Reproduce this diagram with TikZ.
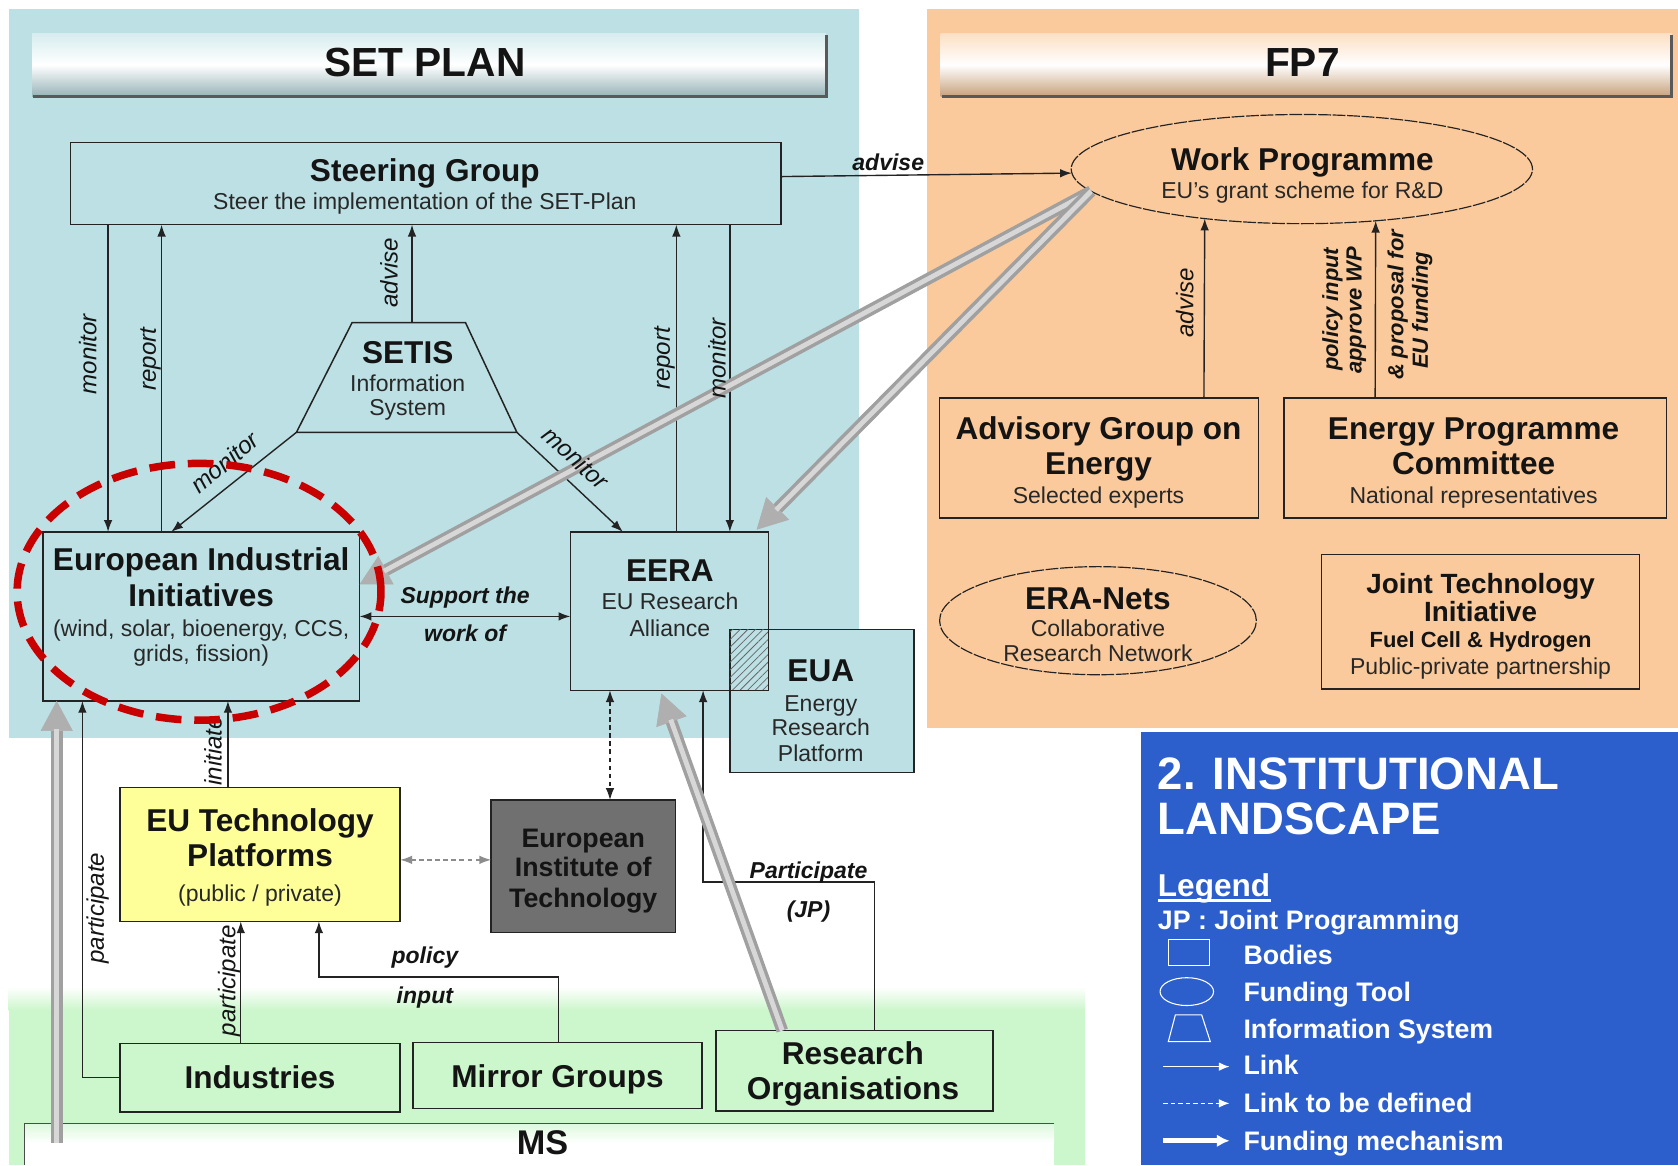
\documentclass[tikz,border=0pt]{standalone}
\usepackage{fontspec}
\setmainfont{Liberation Sans}
\usetikzlibrary{arrows.meta,shapes.geometric,patterns.meta,calc}
\definecolor{setbg}{RGB}{188,224,228}
\definecolor{fpbg}{RGB}{250,202,156}
\definecolor{msbg}{RGB}{204,246,204}
\definecolor{legbg}{RGB}{44,94,204}
\definecolor{eitgray}{RGB}{112,112,112}
\definecolor{etpyel}{RGB}{255,255,153}
\definecolor{edge}{RGB}{35,35,35}
\definecolor{txtc}{RGB}{20,20,20}
\definecolor{subc}{RGB}{40,40,40}
\definecolor{fundgray}{RGB}{160,160,160}
\definecolor{fundlight}{RGB}{215,215,215}
\definecolor{fundhead}{RGB}{175,175,175}
\definecolor{redring}{RGB}{200,0,0}
\begin{document}
\begin{tikzpicture}[x=1pt,y=-1pt,
 tx/.style={inner sep=0pt, outer sep=0pt, text depth=0pt, text=txtc},
 hdr/.style={tx, font=\bfseries\fontsize{38}{40}\selectfont, text height=27.2pt},
 ttl/.style={tx, font=\bfseries\fontsize{29.5}{32}\selectfont, text height=21.1pt},
 ttm/.style={tx, font=\bfseries\fontsize{26}{28}\selectfont, text height=18.6pt},
 tts/.style={tx, font=\bfseries\fontsize{25}{27}\selectfont, text height=17.9pt},
 ttf/.style={tx, font=\bfseries\fontsize{20.5}{23}\selectfont, text height=14.7pt},
 sub/.style={tx, font=\fontsize{21.5}{24}\selectfont, text height=15.4pt, text=subc},
 lbl/.style={tx, font=\bfseries\itshape\fontsize{21.5}{24}\selectfont, text height=15.4pt},
 lbs/.style={tx, font=\bfseries\itshape\fontsize{20.5}{23}\selectfont, text height=14.7pt},
 lbi/.style={tx, font=\itshape\fontsize{22.5}{25}\selectfont, text height=16.1pt},
 leg/.style={tx, anchor=west, font=\bfseries\fontsize{25}{27}\selectfont, text height=17.9pt, text=white},
 legl/.style={tx, anchor=west, font=\bfseries\fontsize{29.5}{32}\selectfont, text height=21.1pt, text=white},
 legt/.style={tx, anchor=west, font=\bfseries\fontsize{42.5}{45}\selectfont, text height=30.4pt, text=white},
 box/.style={draw=edge, line width=1.4pt, inner sep=0pt, outer sep=0pt},
 oval/.style={ellipse, draw=edge, line width=1.1pt, dash pattern=on 12pt off 1.5pt, inner sep=0pt, outer sep=0pt},
 link/.style={draw=edge, line width=1.3pt, -{Latex[length=11pt,width=8pt]}},
 dual/.style={draw=edge, line width=1.3pt, {Latex[length=11pt,width=8pt]}-{Latex[length=11pt,width=8pt]}},
 tbd/.style={line width=1.3pt, dash pattern=on 4pt off 3.5pt, {Latex[length=11pt,width=8pt]}-{Latex[length=11pt,width=8pt]}},
 fund/.style={draw=fundgray, line width=11pt, -{Triangle[length=28pt,width=30pt,line width=0.6pt,color=fundhead,fill=fundhead]}, postaction={draw=fundlight, line width=4.5pt, -, shorten >=26pt}},
]
\useasboundingbox (0,0) rectangle (1568,1089);
% ---------- backgrounds
\fill[white] (0,0) rectangle (1568,1089);
\fill[setbg] (8,8) rectangle (803,690);
\fill[fpbg] (866,8) rectangle (1568,680);
\shade[top color=white, bottom color=msbg] (8,922) rectangle (1014,944);
\fill[msbg] (8,944) rectangle (1014,1089);
\fill[legbg] (1066,684) rectangle (1568,1089);
% MS bar
\shade[top color=msbg!70!white, bottom color=white] (23,1049.5) rectangle (985,1068);
\fill[white] (23,1068) rectangle (985,1089);
\draw[black!70, line width=1pt] (985,1049.5) -- (23,1049.5) -- (23,1089);
% header bars
\shade[top color=setbg!60!white, bottom color=setbg!80!black, middle color=white] (30,31) rectangle (772,90);
\draw[black!65, line width=3pt] (31,90) -- (772,90) -- (772,33);
\shade[top color=fpbg!60!white, bottom color=fpbg!80!black, middle color=white] (879,31) rectangle (1562,90);
\draw[black!65, line width=3pt] (880,90) -- (1562,90) -- (1562,33);
\node[hdr] (hset) at (397,58) {SET PLAN};
\node[hdr] (hfp) at (1217,58) {FP7};
% ---------- shapes
\node[box, fill=setbg, minimum width=664pt, minimum height=77pt] (steer) at (398,171.5) {};
\node[oval, fill=fpbg, minimum width=431pt, minimum height=102pt] (wp) at (1216.5,158) {};
\node[draw=none, inner sep=0pt, outer sep=0pt, minimum width=206pt, minimum height=102.5pt] (setis) at (380,352.75) {};
\draw[draw=edge, line width=1.4pt, fill=setbg] (setis.south west) -- ([xshift=52pt]setis.north west) -- ([xshift=-48pt]setis.north east) -- (setis.south east) -- cycle;
\node[box, fill=setbg, minimum width=296pt, minimum height=158pt] (eii) at (188,576) {};
\node[box, fill=setbg, minimum width=185pt, minimum height=148pt] (eera) at (625.5,571) {};
\node[box, fill=setbg, minimum width=172pt, minimum height=134pt] (eua) at (768,655) {};
\fill[pattern={Lines[angle=45,distance=5pt,line width=0.7pt]}, pattern color=black!60] (eua.north west) rectangle (eera.south east);
\draw[draw=edge, line width=1.4pt] (eera.north west) rectangle (eera.south east);
\node[box, fill=fpbg, minimum width=298pt, minimum height=112pt] (agoe) at (1027,428) {};
\node[box, fill=fpbg, minimum width=357pt, minimum height=112pt] (epc) at (1378.5,428) {};
\node[oval, fill=fpbg, minimum width=296pt, minimum height=101pt] (eranet) at (1026,580) {};
\node[box, fill=fpbg, minimum width=297pt, minimum height=126pt] (jti) at (1383.5,581) {};
\node[box, fill=etpyel, minimum width=262pt, minimum height=125pt] (etp) at (243,798.5) {};
\node[box, fill=eitgray, minimum width=172pt, minimum height=124pt] (eit) at (545,809.5) {};
\node[box, fill=msbg, minimum width=262pt, minimum height=64pt] (ind) at (243,1007) {};
\node[box, fill=msbg, minimum width=270pt, minimum height=62pt] (mir) at (521,1005) {};
\node[box, fill=msbg, minimum width=259pt, minimum height=75pt] (ro) at (798.5,1000.5) {};
\coordinate (msfund) at (53,1068);
% ---------- links
\draw[link] ([xshift=35pt]steer.south west) -- ([xshift=61pt]eii.north west);
\draw[link] ([xshift=111pt]eii.north west) -- ([xshift=85pt]steer.south west);
\draw[link] ([xshift=5pt]setis.north) -- ([xshift=319pt]steer.south west);
\draw[link] ([xshift=99pt]eera.north west) -- ([xshift=566pt]steer.south west);
\draw[link] ([xshift=616pt]steer.south west) -- ([xshift=149pt]eera.north west);
\draw[link] ([yshift=6.5pt]steer.east) -- (wp.181.9);
\draw[link] (setis.south west) -- ([xshift=120pt]eii.north west);
\draw[link] (setis.south east) -- ([xshift=49pt]eera.north west);
\draw[dual] (eii.east) -- ([yshift=-5pt]eera.west);
\draw[link] ([xshift=98pt]agoe.north) -- (wp.-153.2);
\draw[link] ([xshift=-93.5pt]epc.north) -- (wp.-35.2);
\draw[link] ([xshift=101pt]etp.north west) -- ([xshift=173pt]eii.south west);
\draw[link] (ind.west) -| ([xshift=37pt]eii.south west);
\draw[link] ([xshift=113pt]ind.north west) -- ([xshift=113pt]etp.south west);
\draw[link] ([xshift=136pt]mir.north west) -- ++(0,-61) -| ([xshift=186pt]etp.south west);
\draw[tbd, draw=black!45] ([yshift=-5pt]etp.east) -- ([yshift=6pt]eit.west);
\draw[tbd, draw=edge] ([xshift=37pt]eera.south west) -- ([xshift=111pt]eit.north west);
\draw[link] ([xshift=148pt]ro.north west) -- ++(0,-139) -| ([xshift=124pt]eera.south west);
% ---------- funding mechanisms
\draw[fund] (wp.186) -- ([yshift=30pt]eii.east);
\draw[fund] (wp.186) -- ([xshift=-11pt,yshift=2pt]eera.north east);
\draw[fund] ([xshift=62pt]ro.north west) -- ([xshift=85pt,yshift=-3pt]eera.south west);
\draw[fund] (msfund) -- ([xshift=13pt]eii.south west);
% ---------- texts
\node[ttl] (tsg1) at (397,159) {Steering Group};
\node[sub] (tsg2) at (397,188.5) {Steer the implementation of the SET-Plan};
\node[ttl] (twp1) at (1217,149) {Work Programme};
\node[sub] (twp2) at (1217,178) {EU's grant scheme for R\&D};
\node[ttl] (tse1) at (381,329) {SETIS};
\node[sub] (tse2) at (381,358) {Information};
\node[sub] (tse3) at (381,381) {System};
\node[ttl] (tei1) at (188,523) {European Industrial};
\node[ttl] (tei2) at (188,556) {Initiatives};
\node[sub] (tei3) at (188,587) {(wind, solar, bioenergy, CCS,};
\node[sub] (tei4) at (188,610) {grids, fission)};
\node[ttl] (tee1) at (626,533) {EERA};
\node[sub] (tee2) at (626,562) {EU Research};
\node[sub] (tee3) at (626,587) {Alliance};
\node[ttl] (tua1) at (767,626) {EUA};
\node[sub] (tua2) at (767,657) {Energy};
\node[sub] (tua3) at (767,680) {Research};
\node[sub] (tua4) at (767,704) {Platform};
\node[ttl] (tag1) at (1026.5,400) {Advisory Group on};
\node[ttl] (tag2) at (1026.5,433) {Energy};
\node[sub] (tag3) at (1026.5,462.6) {Selected experts};
\node[ttl] (tep1) at (1377,400) {Energy Programme};
\node[ttl] (tep2) at (1377,433) {Committee};
\node[sub] (tep3) at (1377,462.6) {National representatives};
\node[ttl] (ter1) at (1026,559) {ERA-Nets};
\node[sub] (ter2) at (1026,587) {Collaborative};
\node[sub] (ter3) at (1026,610.5) {Research Network};
\node[ttm] (tjt1) at (1383.5,545) {Joint Technology};
\node[ttm] (tjt2) at (1383.5,571.6) {Initiative};
\node[ttf] (tjt3) at (1383.5,598) {Fuel Cell \& Hydrogen};
\node[sub] (tjt4) at (1383.5,623) {Public-private partnership};
\node[ttl] (ttp1) at (243,766) {EU Technology};
\node[ttl] (ttp2) at (243,799) {Platforms};
\node[sub] (ttp3) at (243,835) {(public / private)};
\node[tts] (tit1) at (545,783) {European};
\node[tts] (tit2) at (545,810) {Institute of};
\node[tts] (tit3) at (545,839) {Technology};
\node[ttl] (tind) at (243,1007) {Industries};
\node[ttl] (tmir) at (521,1006) {Mirror Groups};
\node[ttl] (tro1) at (797,984) {Research};
\node[ttl] (tro2) at (797,1017) {Organisations};
\node[hdr, font=\bfseries\fontsize{32}{34}\selectfont, text height=23pt] (tms) at (507,1067) {MS};
% ---------- connector labels
\node[lbl] (ladv) at (830,152) {advise};
\node[lbi, rotate=90] (lmon1) at (82,331) {monitor};
\node[lbi, rotate=90] (lrep1) at (137.5,335.6) {report};
\node[lbi, rotate=90] (ladv2) at (363.5,255) {advise};
\node[lbi, rotate=90] (lrep2) at (618,335) {report};
\node[lbi, rotate=90] (lmon2) at (670,335) {monitor};
\node[lbi, rotate=40] (lmon3) at (210,432) {monitor};
\node[lbi, rotate=-42] (lmon4) at (538,428) {monitor};
\node[lbl] (lsup1) at (434.6,556) {Support the};
\node[lbl] (lsup2) at (434.6,592) {work of};
\node[lbi, rotate=90] (ladv3) at (1107,283) {advise};
\node[lbs, rotate=90] (lpol1) at (1243,289) {policy input};
\node[lbs, rotate=90] (lpol2) at (1265,290) {approve WP};
\node[lbs, rotate=90] (lpol3) at (1304,285) {\& proposal for};
\node[lbs, rotate=90] (lpol4) at (1327,290) {EU funding};
\node[lbi, rotate=90] (lini) at (199,701.5) {initiate};
\node[lbi, rotate=90] (lpar1) at (89,848.6) {participate};
\node[lbi, rotate=90] (lpar2) at (212,916.5) {participate};
\node[lbl] (lpi1) at (397,893) {policy};
\node[lbl] (lpi2) at (397,930) {input};
\node[lbl] (ljp1) at (755.5,813) {Participate};
\node[lbl] (ljp2) at (755.5,850) {(JP)};
% ---------- legend
\node[legt] (lg1) at (1082,722.5) {2. INSTITUTIONAL};
\node[legt] (lg2) at (1082,764.6) {LANDSCAPE};
\node[legl] (lg3) at (1082,827) {Legend};
\draw[white, line width=2pt] (1082,841.5) -- (1188,841.5);
\node[leg] (lg4) at (1082,860) {JP : Joint Programming};
\draw[white, line width=1pt] (1092,878) rectangle (1130.6,902.6);
\node[leg] (lg5) at (1162,892) {Bodies};
\draw[white, line width=1pt] (1109,926.6) ellipse [x radius=25pt, y radius=13pt];
\node[leg] (lg6) at (1162,926.6) {Funding Tool};
\draw[white, line width=1pt] (1091.7,973.4) -- (1098.3,948.4) -- (1122.9,948.4) -- (1131,973.4) -- cycle;
\node[leg] (lg7) at (1162,961) {Information System};
\draw[white, line width=1.3pt, -{Latex[length=10pt,width=8pt]}] (1087,996.7) -- (1149,996.7);
\node[leg] (lg8) at (1162,995) {Link};
\draw[white, line width=1.3pt, dash pattern=on 4pt off 3pt, -{Latex[length=10pt,width=8pt]}] (1087,1031) -- (1149,1031);
\node[leg] (lg9) at (1162,1031) {Link to be defined};
\draw[white, line width=5pt, -{Latex[length=12pt,width=12pt]}] (1087,1066) -- (1149,1066);
\node[leg] (lg10) at (1162,1066) {Funding mechanism};
% ---------- red highlight
\node[ellipse, draw=redring, line width=7pt, dash pattern=on 24pt off 12pt, inner sep=0pt, minimum width=340pt, minimum height=240pt] (ring) at (186,553) {};
\end{tikzpicture}
\end{document}
